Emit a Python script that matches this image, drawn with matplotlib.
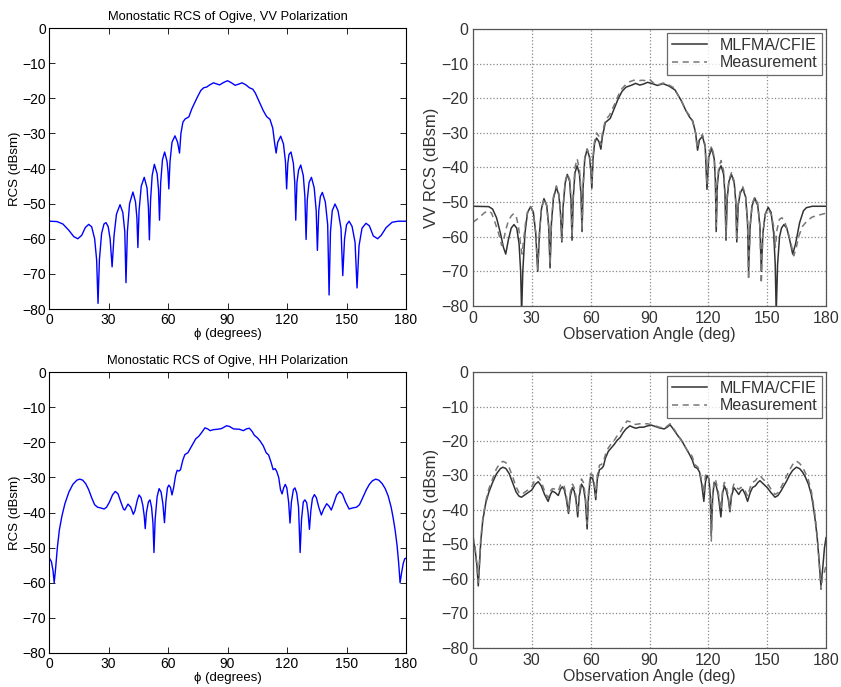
import numpy as np
import matplotlib
matplotlib.use("Agg")
import matplotlib.pyplot as plt

# ---------------- data ----------------
vv_sim = [(0,-55.0),(4,-55.1),(7,-55.8),(10,-57.6),(12.5,-59.4),(14.5,-60.0),(16.5,-59.0),(18.3,-56.8),(20,-55.9),(21.5,-56.6),(23,-60),(24.0,-66),(24.7,-78.4),(25.4,-66),(26.5,-58.5),(27.7,-55.8),(28.7,-55.4),(29.8,-56.5),(30.8,-60),(31.8,-68),(32.8,-59),(34,-53),(35.8,-50.3),(37.2,-52.5),(38.2,-58),(38.8,-72.5),(39.5,-58),(40.6,-50),(42.3,-46.7),(43.6,-49.5),(44.3,-54),(44.8,-62.5),(45.4,-52),(46.5,-45),(48,-42.5),(49.4,-45.5),(50.1,-51),(50.6,-60.3),(51.2,-49),(52,-42),(53.1,-38.8),(54.5,-41.5),(55.2,-46),(55.7,-54.7),(56.3,-44),(57.2,-37.5),(58.3,-35.3),(59.5,-38),(60.0,-41),(60.4,-45.8),(61.0,-38),(62.0,-32.5),(63.5,-30.7),(64.8,-32.5),(65.8,-35.6),(66.5,-30),(67.5,-26.8),(68.6,-25.9),(70.5,-25.3),(72,-23),(74.5,-20),(76.5,-17.8),(78,-17),(79.5,-16.8),(81,-16.2),(82.9,-15.6),(84.5,-15.9),(86,-16.2),(88,-15.5),(90,-15.0),(92,-15.6),(93.8,-16.3),(95.5,-16),(97.3,-15.6),(99.3,-16.2),(101,-17),(102.7,-17.4),(104,-18.5),(106,-21),(108,-23.5),(109.7,-25.2),(111.4,-26),(112.8,-28.5),(113.8,-33),(114.5,-35.6),(115.3,-32.5),(116.8,-30.8),(118.2,-33),(119.2,-38),(119.8,-45.8),(120.4,-38.5),(121,-36),(122,-35.3),(123.2,-38.5),(123.9,-44),(124.4,-54.7),(125,-44),(125.8,-40.5),(126.9,-39),(128.2,-42),(129,-48),(129.6,-60.2),(130.2,-49),(131.1,-44),(132.3,-42.5),(133.7,-45.5),(134.7,-52),(135.3,-63.3),(136,-52),(136.8,-48),(137.8,-46.8),(139.3,-49.5),(140.5,-56),(141.2,-76),(141.9,-58),(142.8,-52),(144.2,-50.1),(145.7,-52),(147.2,-57),(148.1,-70.5),(149,-60),(150,-56),(151.3,-55),(152.8,-56.5),(154.3,-61),(155.3,-74),(156.3,-62),(157.8,-57),(159.8,-55.6),(161.5,-56.3),(163.5,-59.2),(165.7,-60),(167.5,-59),(170,-56.8),(173,-55.3),(176,-55),(180,-55)]

vv_mlfma = [(0,-51.2),(8,-51.3),(10,-52),(12,-54.5),(14,-59),(15.5,-63),(16.7,-65),(18,-61),(19.5,-57.5),(20.9,-56.5),(22.3,-57.5),(23.5,-62),(24.3,-70),(24.8,-82),(25.4,-70),(26.5,-59),(27.8,-53),(29.4,-51.3),(30.8,-53),(32,-59),(33,-70),(33.9,-59),(34.9,-52),(36.2,-49),(37.6,-51),(38.6,-57),(39.3,-69),(40,-56),(41,-49),(42.5,-45.7),(43.8,-48),(44.6,-53),(45.3,-61.5),(46,-51),(47,-44.5),(48.1,-42),(49.3,-44),(50,-50),(50.5,-61),(51.1,-49),(52,-41.5),(53.1,-39.5),(54.3,-42),(55.1,-48),(55.6,-58.5),(56.2,-45),(57,-37.5),(58.2,-34.7),(59.4,-37),(60.1,-41),(60.6,-46),(61.2,-37.5),(62,-33),(63,-31.5),(64.2,-32.5),(65.2,-34.7),(66,-31),(67.5,-27),(70,-25.8),(72,-23),(74,-20.2),(76,-18),(78,-16.8),(81,-16.2),(83,-15.7),(85,-16.2),(87,-15.9),(89,-15.4),(91.5,-15.8),(94,-16.3),(97,-15.8),(100,-16.5),(103,-17.6),(106,-20.5),(108.5,-23.5),(110.5,-25.5),(112,-26.5),(113.5,-30),(114.5,-35),(115.5,-32),(117,-31),(118.4,-34),(119.3,-46.3),(120.2,-37),(121.7,-34.5),(123,-37.5),(123.6,-44),(124,-58.5),(124.6,-45),(125.3,-41),(126.5,-39.5),(127.8,-42),(128.5,-48),(129,-61),(129.6,-49),(130.5,-44),(131.8,-42),(133.2,-44.5),(134,-50),(134.5,-61.5),(135.2,-51),(136.2,-47.5),(137.5,-46),(139,-48.5),(140,-56),(140.5,-70),(141.3,-57),(142.3,-51),(143.7,-48.8),(145.2,-51),(146.3,-57),(147,-70),(147.8,-59),(149,-53.5),(150.5,-51.5),(152,-53),(153.3,-59),(154.1,-68),(154.6,-82),(155.3,-68),(156.3,-60),(157.3,-57.5),(158.5,-56.5),(160,-57.5),(161.5,-61),(163,-65),(164.5,-62),(166.5,-56),(168.5,-52.5),(170,-51.6),(173,-51.2),(180,-51.2)]

vv_meas = [(0,-55.8),(2,-55),(4,-54),(6,-53),(8,-52.5),(9.5,-53.2),(11,-55.5),(12.5,-58),(13.8,-60.5),(14.6,-62.5),(15.5,-61.5),(16.5,-58.5),(18,-55.5),(19.5,-54),(20.8,-53.3),(22,-54),(23.2,-57),(24.2,-62),(25,-65),(25.8,-61),(26.8,-56),(28,-52.5),(29.4,-51.3),(30.8,-53),(32,-59),(33,-69.5),(33.9,-59),(34.9,-52),(36.2,-49),(37.6,-51),(38.6,-57),(39.3,-68),(40,-56),(41,-48.5),(42.5,-45.3),(43.8,-47.5),(44.6,-53),(45.3,-61),(46,-51),(47,-44),(48.1,-41.8),(49.3,-43.5),(50,-49),(50.5,-60),(51.1,-48),(52,-40),(53.1,-37.5),(54.3,-40.5),(55.1,-47),(55.6,-58),(56.2,-45),(57,-37),(58.2,-34.7),(59.4,-36.5),(60.1,-40.5),(60.6,-44.5),(61.2,-37),(62,-32.5),(63,-30),(64.2,-31),(65.2,-33.5),(66,-30),(67.5,-26.3),(69.5,-25),(72,-22),(74,-19.3),(76,-17.2),(78,-16),(80,-15.2),(82,-14.8),(84,-15),(86,-14.8),(88,-14.9),(90,-14.5),(92,-15.6),(94,-16.2),(97,-15.6),(100,-16.2),(102.5,-17),(104,-18.6),(106.5,-21),(109,-24),(110.5,-25),(112,-26.8),(113.5,-30),(114.3,-34.5),(115.3,-31.5),(117,-30.5),(118.4,-33.5),(119.3,-45),(120.2,-36),(121.7,-33.8),(123,-37),(123.6,-43.5),(124,-57),(124.6,-44),(125.3,-40),(126.5,-38),(127.8,-41),(128.5,-47),(129,-60),(129.6,-48),(130.5,-43.5),(131.8,-41.5),(133.2,-44),(134,-50),(134.5,-61),(135.2,-50.5),(136.2,-47),(137.5,-45.5),(139,-48),(140,-56),(140.5,-72.5),(141.3,-57),(142.3,-50.5),(143.7,-48.5),(145.2,-50.5),(146.3,-57),(147,-73.5),(147.8,-59),(149,-53.5),(150.5,-52),(152,-53.5),(153.3,-57),(154.2,-63),(155,-58),(156.2,-55),(157.5,-54.5),(159,-55.8),(160.5,-58.5),(162,-61.5),(163.5,-65.5),(164.7,-63.5),(166,-60),(168,-57),(170.5,-55.3),(173,-54.3),(176,-53.8),(180,-53.2)]

hh_sim = [(0,-52.8),(1.2,-54),(2,-56.5),(2.6,-60),(3.3,-56),(4.2,-50),(5.2,-45),(6.5,-41),(8,-37.5),(10,-34.2),(12,-32),(14,-30.8),(15.5,-30.5),(17,-30.8),(18.5,-31.8),(20,-33.5),(21.5,-35.8),(23,-37.8),(24.5,-38.5),(26,-38.7),(27.8,-39),(29,-38.5),(30.5,-37),(32,-35),(33.4,-34),(34.8,-34.7),(36.2,-37),(37.5,-39),(38.2,-39.3),(39.8,-37.6),(41.2,-38.5),(42.5,-40.5),(43.3,-39.5),(44.5,-36.5),(45.4,-35),(46.4,-35.8),(47.3,-38),(48,-41),(48.5,-44.6),(49.1,-40),(50.1,-37),(50.9,-36.4),(51.7,-38.5),(52.4,-43),(52.9,-51.4),(53.5,-42),(54.5,-35.5),(55.5,-33.2),(56.5,-34.2),(57.4,-37.5),(58.2,-42.9),(58.9,-37),(59.7,-33),(60.4,-32.2),(61.2,-32.8),(62,-35),(62.8,-33),(63.8,-29.5),(64.6,-28),(65.5,-28.2),(66.3,-27.8),(67.5,-25),(68.5,-23.5),(70,-23),(71,-22),(72.5,-20.5),(74,-19),(75.5,-18.3),(77,-17.2),(78.6,-15.9),(80,-16.2),(81.2,-16.7),(83,-16.4),(85,-16.3),(87,-16.1),(89.5,-15.3),(91,-15.5),(93,-16.2),(96,-16.3),(98,-16.7),(99.5,-16.2),(101,-16),(102.5,-17),(103.5,-18),(105,-18.7),(106.5,-19.7),(108,-21),(109.5,-23),(110.7,-23.6),(112,-25.8),(113,-27.8),(114,-27.5),(114.8,-28.3),(115.8,-30),(116.7,-33.5),(117.5,-34.7),(118.3,-33),(119.1,-32),(119.9,-33),(120.8,-37),(121.5,-43),(122.2,-37),(123.2,-33.5),(124,-33),(124.9,-34.5),(125.8,-38.5),(126.6,-51.4),(127.3,-42),(128.2,-37),(129,-36.4),(129.9,-37.2),(130.6,-40),(131.3,-44.8),(132,-39.5),(132.8,-36),(133.8,-34.9),(134.8,-35.8),(136,-38.5),(137.3,-40.7),(138.5,-39),(140,-37.5),(141.2,-38.2),(142.3,-39.3),(143.5,-37.5),(145,-35),(146.6,-34),(148,-34.8),(149.5,-37),(151.3,-39),(153,-38.7),(155,-38.5),(156.5,-37.8),(158,-36),(160,-33.5),(161.5,-32),(163,-31),(164.7,-30.5),(166.3,-30.8),(168,-31.8),(169.5,-33.2),(171,-35.3),(172.5,-38.5),(173.5,-41.5),(174.5,-45),(175.5,-49.5),(176.3,-54.5),(177,-60),(177.8,-57),(178.6,-54.5),(179.3,-53.2),(180,-53)]

hh_mlfma = [(0,-48.5),(1,-51),(2,-56),(2.7,-62),(3.3,-56),(4,-49),(5,-43),(6.5,-38),(8,-35),(10,-32),(12,-29.5),(14,-28),(15.3,-27.6),(16.8,-28),(18.5,-29.5),(20,-31.8),(22,-34.8),(23.5,-36),(24.7,-36.3),(26.5,-35.6),(28.5,-34.8),(30,-34.2),(31.8,-32.5),(33.3,-31.8),(34.8,-33),(36.5,-35.5),(38.3,-37.5),(39.5,-35.5),(40.5,-34.5),(42,-35),(43.5,-35.8),(44.6,-34),(45.5,-33.3),(46.5,-34),(47.5,-36.5),(48.7,-41),(49.6,-36),(50.7,-33.5),(51.6,-34.5),(52.5,-37),(53.4,-42),(54.2,-36),(55.3,-32.5),(56.3,-33.5),(57.3,-37),(58.2,-45.5),(58.9,-36),(59.9,-30.5),(61,-30.8),(61.8,-33),(62.6,-37),(63.4,-31),(64.5,-28.3),(65.5,-28),(66.5,-27.3),(67.5,-25),(69,-23),(70.5,-22),(72,-21),(73.5,-19.8),(75,-19),(76.5,-17.6),(78,-16.5),(80,-15.6),(81.5,-16),(83,-16.3),(85,-16),(87,-16),(89,-15.6),(91,-15.4),(93,-15.8),(95,-16.2),(97.5,-16.5),(99,-16),(100.5,-15.3),(101.8,-16.3),(103,-17.3),(104.5,-18.5),(106,-19.5),(107.5,-21),(109,-22.5),(110.5,-24),(111.8,-25.5),(113,-27.5),(114.5,-28),(115.5,-29),(116.6,-32.5),(117.7,-37.5),(118.5,-32),(119.3,-30),(120.3,-31),(121,-36),(121.5,-47),(122.2,-36),(123,-32),(123.8,-32.5),(125,-35.5),(126.4,-42),(127.3,-35),(128.2,-33),(129.2,-34.5),(130.2,-37),(131,-40.5),(131.8,-36),(133,-33.5),(134.3,-34.5),(135.5,-35.5),(136.5,-34.5),(137.5,-34),(138.8,-35.5),(140,-37.5),(141.3,-35),(142.5,-33.5),(144,-33),(145.3,-32),(146.3,-31.5),(147.8,-32.3),(150,-33.5),(152,-35),(154,-36.3),(155.5,-35.8),(157,-34.5),(158.5,-33),(160,-31.5),(161.5,-29.8),(163,-28.5),(164.9,-27.6),(166.5,-28),(168,-29),(169.5,-30.5),(171,-32.5),(172.5,-35.5),(173.5,-39),(174.5,-43),(175.5,-48),(176.5,-55),(177.4,-62),(178.3,-57),(179.2,-51),(180,-48)]

hh_meas = [(0,-47.5),(1,-50.5),(2,-56),(2.7,-61),(3.3,-55),(4,-48),(5,-42.5),(6.5,-37.5),(8,-34),(10,-31),(12,-28),(14,-26.3),(15.3,-25.9),(16.8,-26.3),(18.5,-27.8),(20,-30),(22,-33.3),(23.5,-35),(25,-35.5),(26.5,-34.8),(28.5,-34),(30,-33.2),(31.8,-31),(33.3,-30.4),(34.8,-31.8),(36.5,-34.5),(38.3,-36.5),(39.5,-34.5),(40.5,-33.8),(42,-34),(43.5,-34.5),(44.6,-32.8),(45.5,-32.3),(46.5,-33.2),(47.5,-35.5),(48.7,-40.5),(49.6,-35),(50.7,-32.5),(51.6,-33.5),(52.5,-36),(53.4,-41),(54.2,-35),(55.3,-31),(56.3,-32),(57.3,-36),(58.2,-44),(58.9,-35),(59.9,-29.5),(61,-29.8),(61.8,-32),(62.6,-36),(63.4,-30),(64.5,-27),(65.5,-26.8),(66.5,-26),(67.5,-24),(69,-22),(70.5,-20.8),(72,-19.8),(73.5,-18.5),(75,-17.5),(76.5,-16),(78.5,-14.2),(80,-14.4),(81.5,-15),(83,-15.2),(85,-15),(87,-15),(89,-15),(91,-15.3),(93,-15.6),(95,-16),(97.5,-16.2),(99,-15.7),(100.5,-15),(101.8,-16),(103,-17),(104.5,-18.5),(106,-19.7),(107.5,-21),(109,-22.5),(110.5,-23.5),(111.8,-24.5),(113,-26.8),(114.5,-27.5),(115.5,-28.5),(116.6,-31.5),(117.7,-35),(118.5,-30),(119.3,-29.5),(120.3,-31),(121,-38),(121.5,-49),(122.2,-36),(123,-31),(123.8,-31.5),(125,-34.5),(126.4,-40),(127.3,-34),(128.2,-32),(129.2,-33.5),(130.2,-36),(131,-40),(131.8,-35),(133,-32.5),(134.3,-33.5),(135.5,-34),(136.5,-33.5),(137.5,-33.5),(138.8,-34.5),(140,-36),(141.3,-33.5),(142.5,-32),(144,-31.5),(145.3,-30.5),(146.3,-30),(147.8,-31),(150,-32.2),(152,-34),(154,-35.5),(155.5,-35),(157,-33.5),(158.5,-31.8),(160,-30),(161.5,-28.3),(163,-26.8),(164.9,-25.8),(166.5,-26.5),(168,-27.5),(169.5,-29.3),(171,-31.3),(172.5,-34.5),(173.5,-38),(174.5,-42),(175.5,-47.5),(176.5,-55),(177.4,-63),(178.3,-59),(179.2,-58),(180,-56)]

x_ticks = [0, 30, 60, 90, 120, 150, 180]
y_ticks = [0, -10, -20, -30, -40, -50, -60, -70, -80]

# ---------------- figure ----------------
plt.rcParams['font.family'] = ['Liberation Sans', 'DejaVu Sans']
fig = plt.figure(figsize=(8.41, 6.87), dpi=100)

def xy(d):
    a = np.array(d)
    return a[:, 0], a[:, 1]

def style_left(ax, title):
    ax.set_xlim(0, 180)
    ax.set_ylim(-80, 0)
    ax.set_xticks(x_ticks)
    ax.set_yticks(y_ticks)
    ax.tick_params(axis='x', pad=3)
    ax.tick_params(axis='y', pad=2)
    ax.tick_params(direction='in', top=True, right=True, labelsize=10, length=4, width=0.6)
    ax.set_title(title, fontsize=9.3, pad=6)
    ax.set_xlabel('ϕ (degrees)', fontsize=9.5, labelpad=0.5)
    ax.set_ylabel('RCS (dBsm)', fontsize=9.5, labelpad=1)
    for s in ax.spines.values():
        s.set_linewidth(0.8)

def style_right(ax, ylabel):
    ax.set_xlim(0, 180)
    ax.set_ylim(-80, 0)
    ax.set_xticks(x_ticks)
    ax.set_yticks(y_ticks)
    ax.grid(True, linestyle=':', color='#888888', linewidth=0.9)
    ax.tick_params(direction='in', top=False, right=False, labelsize=11.5, length=0, pad=3.5, colors='#333333')
    ax.set_xlabel('Observation Angle (deg)', fontsize=11.5, labelpad=0.5, color='#333333')
    ax.set_ylabel(ylabel, fontsize=12, labelpad=1, color='#333333')
    for s in ax.spines.values():
        s.set_linewidth(0.9)
        s.set_color('#555555')

ax1 = fig.add_axes([0.0583, 0.5502, 0.4245, 0.4090])
x, y = xy(vv_sim)
ax1.plot(x, y, color='blue', linewidth=1.0)
style_left(ax1, 'Monostatic RCS of Ogive, VV Polarization')

ax3 = fig.add_axes([0.0583, 0.0495, 0.4245, 0.4090])
x, y = xy(hh_sim)
ax3.plot(x, y, color='blue', linewidth=1.0)
style_left(ax3, 'Monostatic RCS of Ogive, HH Polarization')

ax2 = fig.add_axes([0.5624, 0.5546, 0.4198, 0.4032])
x, y = xy(vv_mlfma)
ax2.plot(x, y, color='#333333', linewidth=1.1, label='MLFMA/CFIE')
x, y = xy(vv_meas)
ax2.plot(x, y, color='#777777', linewidth=1.1, linestyle=(0, (4, 3)), label='Measurement')
style_right(ax2, 'VV RCS (dBsm)')

ax4 = fig.add_axes([0.5624, 0.0568, 0.4198, 0.4017])
x, y = xy(hh_mlfma)
ax4.plot(x, y, color='#333333', linewidth=1.1, label='MLFMA/CFIE')
x, y = xy(hh_meas)
ax4.plot(x, y, color='#777777', linewidth=1.1, linestyle=(0, (4, 3)), label='Measurement')
style_right(ax4, 'HH RCS (dBsm)')

for ax in (ax2, ax4):
    leg = ax.legend(loc='upper right', fontsize=11.5, frameon=True, fancybox=False,
                    edgecolor='#444444', borderpad=0.3, labelspacing=0.15,
                    handlelength=2.2, borderaxespad=0.25)
    leg.get_frame().set_linewidth(0.9)
    for t in leg.get_texts():
        t.set_color('#333333')

fig.savefig('out.png', dpi=100)
